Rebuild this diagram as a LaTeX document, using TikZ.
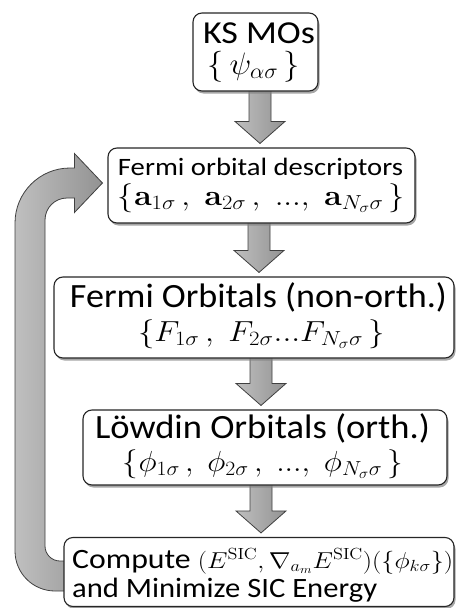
\RequirePackage{fix-cm}
\documentclass[tikz,border=0pt]{standalone}
\usepackage{graphicx}
\usepackage[no-math]{fontspec}
\newfontfamily\carl{Carlito}
\usetikzlibrary{calc,shadows,backgrounds}
\tikzset{
  boxnode/.style={draw=black!85, line width=1.1pt, rounded corners=9pt, fill=white, inner sep=0pt,
    drop shadow={shadow xshift=1.5pt, shadow yshift=-2.5pt, fill=black!50, opacity=0.7}},
  txt/.style={anchor=base, inner sep=0pt},
  blockarr/.style={draw=black!75, line width=0.8pt, left color=gray!50, right color=gray!85}
}
% stretch a line horizontally to the reference width, keeping its height
\newcommand{\fitw}[2]{\resizebox{#1}{\height}{#2}}
\newcommand{\dnarrow}[3]{%
  \path[blockarr] let \p1=(#1.south), \p2=(#2.north) in
    (#3-11pt,\y1+6pt) -- (#3+11pt,\y1+6pt) -- (#3+11pt,\y2+26pt) -- (#3+25pt,\y2+26pt)
    -- (#3,\y2+4pt) -- (#3-25pt,\y2+26pt) -- (#3-11pt,\y2+26pt) -- cycle;}
\begin{document}
\begin{tikzpicture}
\useasboundingbox (0,0) rectangle (456pt,-608pt);
% boxes
\node[boxnode, minimum width=125pt, minimum height=78pt] (ks) at (255.5pt,-52pt) {};
\node[boxnode, minimum width=307pt, minimum height=75pt] (fod) at (261.5pt,-185.5pt) {};
\node[boxnode, minimum width=400pt, minimum height=81pt] (fo) at (254pt,-317.5pt) {};
\node[boxnode, minimum width=364pt, minimum height=75pt] (lo) at (265pt,-447.5pt) {};
\node[boxnode, minimum width=390pt, minimum height=69pt] (cmp) at (259pt,-572pt) {};
% texts
\node[txt] (ks1) at (259pt,-43pt) {\fitw{112pt}{\carl\fontsize{32}{36}\selectfont KS MOs}};
\node[txt] (ks2) at (254pt,-74pt) {\fitw{92pt}{\fontsize{31}{36}\selectfont$\{\,\psi_{\alpha\sigma}\,\}$}};
\node[txt] (fod1) at (260.5pt,-175pt) {\fitw{285pt}{\carl\fontsize{25}{30}\selectfont Fermi orbital descriptors}};
\node[txt] (fod2) at (261.5pt,-205pt) {\fitw{287pt}{\fontsize{29}{34}\selectfont$\{\mathbf{a}_{1\sigma}\,,\; \mathbf{a}_{2\sigma}\,,\; ...,\; \mathbf{a}_{N_\sigma\sigma}\,\}$}};
\node[txt] (fo1) at (258.5pt,-307pt) {\fitw{377pt}{\carl\fontsize{34}{38}\selectfont Fermi Orbitals (non-orth.)}};
\node[txt] (fo2) at (261.5pt,-341pt) {\fitw{247pt}{\fontsize{29}{34}\selectfont$\{F_{1\sigma}\,,\; F_{2\sigma}...F_{N_\sigma\sigma}\,\}$}};
\node[txt] (lo1) at (262.5pt,-438pt) {\fitw{335pt}{\carl\fontsize{34}{38}\selectfont L\"owdin Orbitals (orth.)}};
\node[txt] (lo2) at (263pt,-471pt) {\fitw{280pt}{\fontsize{29}{34}\selectfont$\{\phi_{1\sigma}\,,\; \phi_{2\sigma}\,,\; ...,\; \phi_{N_\sigma\sigma}\,\}$}};
\node[txt, anchor=base west] (c1) at (72pt,-568pt) {\fitw{381pt}{\carl\fontsize{28}{32}\selectfont Compute \fontsize{23}{27}\selectfont$(E^{\mathrm{SIC}},\nabla_{a_m}E^{\mathrm{SIC}})(\{\phi_{k\sigma}\})$}};
\node[txt, anchor=base west] (c2) at (72pt,-597pt) {\fitw{305pt}{\carl\fontsize{28}{32}\selectfont and Minimize SIC Energy}};
% arrows behind boxes
\begin{pgfonlayer}{background}
\dnarrow{ks}{fod}{260pt}
\dnarrow{fod}{fo}{259pt}
\dnarrow{fo}{lo}{261pt}
\dnarrow{lo}{cmp}{261pt}
\path[blockarr] let \p1=(cmp.west), \p2=(fod.west) in
  (\x1+4pt,\y1-19pt) -- (55pt,\y1-19pt) arc[start angle=270, end angle=180, radius=40pt]
  -- (15pt,\y2+17.5pt-55pt) arc[start angle=180, end angle=90, radius=55pt]
  -- (\x2-33pt,\y2+17.5pt) -- (\x2-33pt,\y2+32pt) -- (\x2-5pt,\y2+2.5pt)
  -- (\x2-33pt,\y2-27pt) -- (\x2-33pt,\y2-12.5pt) -- (67pt,\y2-12.5pt)
  arc[start angle=90, end angle=180, radius=22pt]
  -- (45pt,\y1+11pt+15pt) arc[start angle=180, end angle=270, radius=15pt]
  -- (\x1+4pt,\y1+11pt) -- cycle;
\end{pgfonlayer}
\end{tikzpicture}
\end{document}
